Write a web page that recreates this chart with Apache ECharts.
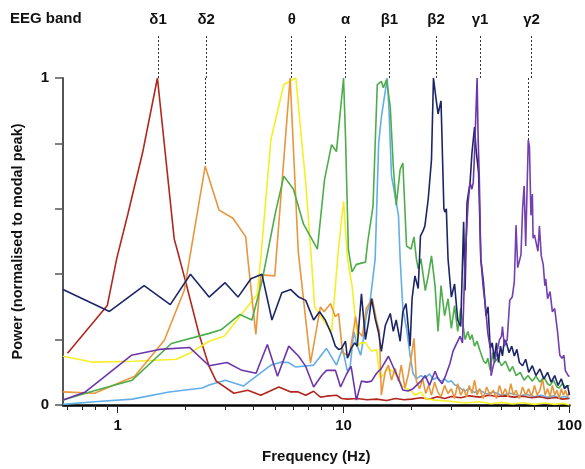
<!DOCTYPE html>
<html><head><meta charset="utf-8">
<script src="https://cdn.jsdelivr.net/npm/echarts@6/dist/echarts.min.js"></script>
<style>html,body{margin:0;padding:0;background:#fff}#c{width:585px;height:469px}</style>
</head><body><div id="c"></div><script>
// ---- band annotations ----
const bandNames = ['δ1','δ2','θ','α','β1','β2','γ1','γ2'];
const bandPeakHz = [1.5, 2.44, 5.8, 10.0, 15.6, 25.0, 39.0, 65.7];
const bandPeakPower = [1, 0.73, 1, 1, 1, 1, 1, 0.81];

// ---- axis ticks ----
const xMinorTicks = [0.6,0.7,0.8,0.9,1,2,3,4,5,6,7,8,9,10,20,30,40,50,60,70,80,90,100];
const xMajorTicks = [1,10,100];
const yLabelValues = [0,1];

// ---- spectra: [frequency Hz, normalised power] ----
const delta1 = [[0.6,0.158],[0.9,0.304],[0.99,0.447],[1.11,0.584],[1.29,0.772],[1.5,1.0],[1.78,0.508],[1.88,0.447],[2.0,0.377],[2.3,0.213],[2.54,0.118],[2.73,0.073],[3.27,0.036],[3.77,0.045],[4.3,0.03],[5.17,0.055],[5.84,0.04],[6.3,0.04],[6.8,0.03],[7.37,0.042],[7.9,0.024],[8.4,0.027],[9.3,0.03],[9.8,0.02],[10.4,0.018],[11.5,0.02],[12.7,0.016],[14,0.018],[15.5,0.014],[17,0.02],[18.5,0.016],[20,0.018],[22,0.022],[24,0.018],[26,0.025],[28,0.02],[30,0.026],[33,0.022],[36,0.028],[40,0.024],[44,0.03],[48,0.026],[52,0.028],[57,0.024],[62,0.027],[68,0.022],[74,0.025],[80,0.02],[87,0.023],[93,0.018],[100,0.02]];

const delta2 = [[0.573,0.04],[0.79,0.036],[1.19,0.088],[1.61,0.198],[1.97,0.35],[2.44,0.73],[2.81,0.596],[3.24,0.571],[3.69,0.514],[3.77,0.447],[4.09,0.216],[4.3,0.398],[4.96,0.395],[5.8,1.0],[6.3,0.47],[7.14,0.128],[7.9,0.30],[8.2,0.285],[8.75,0.31],[9.2,0.27],[9.5,0.28],[9.9,0.16],[10.6,0.15],[11.1,0.234],[11.3,0.27],[11.6,0.225],[12.1,0.21],[12.6,0.295],[13.4,0.325],[14.0,0.258],[14.4,0.225],[14.7,0.03],[15.3,0.103],[15.8,0.122],[16.3,0.076],[16.9,0.112],[17.5,0.073],[18.0,0.122],[18.7,0.052],[19.3,0.09],[19.9,0.143],[20.5,0.204],[21.0,0.073],[21.7,0.05],[22.4,0.08],[23.1,0.035],[23.8,0.06],[24.5,0.03],[25.3,0.07],[26.1,0.04],[27,0.025],[28,0.06],[29,0.035],[30,0.05],[31,0.02],[32,0.065],[33,0.03],[34,0.05],[35,0.025],[36,0.06],[37,0.035],[38,0.076],[39,0.03],[40,0.05],[41.5,0.02],[43,0.055],[44.5,0.03],[46,0.045],[47.5,0.02],[49,0.06],[50.5,0.03],[52,0.05],[53.5,0.025],[55,0.065],[56.5,0.03],[58,0.045],[60,0.02],[62,0.055],[64,0.03],[66,0.05],[68,0.025],[70,0.06],[72,0.03],[74,0.045],[76,0.08],[78,0.03],[80,0.05],[82,0.025],[84,0.06],[86,0.03],[88,0.045],[90,0.02],[92,0.05],[94,0.03],[96,0.045],[98,0.025],[100,0.04]];

const theta = [[0.573,0.149],[0.78,0.131],[1.19,0.134],[1.82,0.14],[2.08,0.158],[2.54,0.195],[2.96,0.21],[4.14,0.337],[4.3,0.447],[4.77,0.812],[5.44,0.98],[6.15,1.0],[6.5,0.82],[6.8,0.68],[7.2,0.447],[7.45,0.30],[8.15,0.258],[8.85,0.225],[9.5,0.48],[10.0,0.623],[10.4,0.45],[10.9,0.365],[11.3,0.258],[11.6,0.18],[11.9,0.19],[12.5,0.19],[13.3,0.164],[14.0,0.17],[14.5,0.082],[15.2,0.097],[15.8,0.112],[16.5,0.103],[17.5,0.082],[18.1,0.06],[18.7,0.052],[19.7,0.046],[20.8,0.03],[22,0.04],[23,0.02],[25.4,0.015],[29,0.012],[34.5,0.006],[40,0.01],[45,0.004],[50,0.008],[56,0.003],[62,0.007],[70,0.002],[78,0.006],[86,0.002],[94,0.005],[100,0.0]];

const alpha = [[0.573,0.015],[0.78,0.043],[1.16,0.076],[1.73,0.188],[2.54,0.219],[2.87,0.23],[3.48,0.277],[3.93,0.26],[4.35,0.377],[5.0,0.59],[5.44,0.70],[6.0,0.66],[6.65,0.553],[7.66,0.477],[8.24,0.69],[8.85,0.796],[9.3,0.775],[10.0,1.0],[10.2,0.82],[10.5,0.477],[10.9,0.407],[11.4,0.43],[12.5,0.437],[12.8,0.5],[13.5,0.608],[14.1,0.98],[14.7,0.99],[15.0,0.97],[15.5,0.995],[16.1,0.91],[16.6,0.73],[17.1,0.61],[17.8,0.72],[18.3,0.74],[19.0,0.486],[19.9,0.477],[20.5,0.514],[21.0,0.447],[21.4,0.416],[22.0,0.447],[23.0,0.35],[23.7,0.395],[24.5,0.456],[25.4,0.365],[26.2,0.225],[26.6,0.295],[27.0,0.365],[28.0,0.273],[29.0,0.325],[30.0,0.234],[31.0,0.304],[32.0,0.225],[33.0,0.295],[34.5,0.2],[35.5,0.225],[36.3,0.2],[37.0,0.215],[38.0,0.18],[39.0,0.195],[40.0,0.17],[41.7,0.134],[42.7,0.127],[43.5,0.143],[44.6,0.106],[45.7,0.16],[46.5,0.13],[48.2,0.143],[50,0.12],[52,0.134],[54.4,0.103],[56,0.118],[58,0.09],[60.5,0.1],[63,0.076],[65.5,0.09],[68.5,0.073],[71,0.088],[74,0.07],[77,0.085],[80,0.065],[82,0.06],[85,0.075],[88,0.055],[90,0.052],[93,0.066],[96,0.055],[100,0.06]];

const beta1 = [[0.573,0.002],[0.79,0.01],[1.16,0.018],[1.69,0.04],[2.37,0.052],[2.54,0.061],[3.0,0.076],[3.6,0.058],[4.14,0.09],[4.77,0.122],[5.28,0.131],[5.7,0.13],[6.15,0.116],[7.37,0.122],[8.4,0.173],[9.3,0.122],[9.9,0.173],[10.4,0.103],[10.7,0.118],[11.1,0.225],[11.5,0.18],[11.9,0.152],[12.2,0.195],[12.6,0.273],[13.1,0.316],[13.8,0.447],[14.3,0.8],[14.7,0.88],[15.3,0.96],[15.6,1.0],[15.9,0.9],[16.3,0.7],[16.9,0.64],[17.5,0.58],[17.8,0.447],[18.3,0.295],[19.0,0.234],[19.7,0.152],[20.3,0.097],[21,0.08],[22,0.09],[23,0.082],[24,0.095],[25,0.078],[26,0.085],[27,0.072],[28,0.08],[29,0.07],[30,0.074],[31,0.062],[32,0.058],[33,0.05],[34.5,0.043],[36,0.05],[38,0.038],[40,0.045],[43,0.034],[46,0.04],[50,0.03],[55,0.036],[60,0.028],[65,0.032],[70,0.025],[75,0.03],[80,0.024],[85,0.028],[90,0.022],[95,0.026],[100,0.02]];

const beta2 = [[0.573,0.353],[0.92,0.286],[1.31,0.365],[1.71,0.307],[2.1,0.40],[2.54,0.33],[2.99,0.374],[3.41,0.33],[3.89,0.386],[4.35,0.40],[4.82,0.26],[5.33,0.343],[5.84,0.353],[6.33,0.33],[6.8,0.32],[7.37,0.26],[7.83,0.285],[8.3,0.26],[8.8,0.22],[9.2,0.18],[9.5,0.17],[9.8,0.173],[10.2,0.195],[10.4,0.143],[10.8,0.173],[11.2,0.19],[11.5,0.18],[12.0,0.34],[12.5,0.2],[12.9,0.255],[13.3,0.325],[13.8,0.264],[14.3,0.22],[14.7,0.164],[15.3,0.243],[16.1,0.28],[16.6,0.225],[17.1,0.26],[17.8,0.195],[18.3,0.285],[18.9,0.31],[19.7,0.18],[20.1,0.325],[20.7,0.395],[21.4,0.356],[21.9,0.517],[22.4,0.53],[22.9,0.547],[23.7,0.63],[24.5,0.75],[25.0,1.0],[25.7,0.933],[26.2,0.89],[27.0,0.93],[27.8,0.60],[28.1,0.59],[28.5,0.60],[29.0,0.447],[30,0.33],[31,0.37],[32,0.26],[33,0.24],[34.0,0.56],[34.5,0.35],[35.2,0.62],[36.3,0.68],[37.0,0.77],[38.0,0.85],[38.6,0.78],[39.6,0.71],[40.5,0.447],[41.6,0.377],[42.7,0.273],[43.6,0.3],[44.6,0.173],[45.5,0.19],[46.5,0.14],[47.5,0.19],[48.5,0.13],[49.5,0.18],[50.5,0.15],[51.5,0.2],[52.6,0.19],[54,0.16],[55.5,0.18],[57,0.15],[58.5,0.17],[60,0.13],[62,0.12],[64,0.14],[66,0.1],[68.5,0.12],[71,0.09],[74,0.11],[77,0.08],[80,0.1],[83,0.07],[86,0.09],[89,0.06],[92,0.08],[95,0.05],[98,0.06],[100,0.03]];

const gamma1 = [[0.573,0.015],[0.72,0.04],[1.15,0.152],[1.53,0.17],[2.08,0.176],[2.54,0.12],[3.05,0.13],[3.55,0.106],[4.1,0.097],[4.6,0.185],[5.1,0.088],[5.72,0.18],[6.33,0.149],[6.8,0.118],[7.37,0.055],[8.0,0.09],[8.4,0.106],[9.2,0.106],[9.7,0.055],[10.3,0.094],[10.8,0.118],[11.4,0.015],[12.0,0.073],[12.7,0.07],[13.3,0.073],[14.0,0.097],[14.7,0.112],[15.8,0.149],[16.5,0.12],[17.5,0.08],[18.3,0.046],[19.3,0.043],[20.3,0.05],[22,0.073],[23,0.09],[24,0.06],[25.4,0.103],[26.2,0.08],[27.3,0.065],[28.3,0.09],[29.6,0.128],[30.5,0.164],[31.4,0.183],[32.8,0.21],[33.6,0.19],[34.5,0.447],[35.6,0.62],[36.3,0.68],[37,0.66],[37.5,0.68],[38.0,0.77],[39.0,1.0],[39.4,0.82],[39.9,0.69],[40.5,0.447],[41.5,0.36],[42.5,0.3],[43.5,0.22],[44.6,0.173],[45.0,0.09]];

const gamma2 = [[45.0,0.09],[46,0.12],[47,0.143],[48,0.17],[49,0.2],[50,0.21],[50.5,0.24],[51.5,0.18],[53,0.2],[54.4,0.32],[55.8,0.33],[57,0.377],[58,0.55],[59,0.42],[61,0.46],[62,0.6],[63,0.67],[64,0.486],[65.7,0.81],[66.5,0.79],[67.5,0.58],[68.5,0.645],[69,0.51],[70,0.52],[71,0.52],[72.5,0.47],[73.6,0.547],[75,0.456],[76.5,0.43],[77.8,0.365],[78.5,0.386],[80,0.325],[82,0.347],[84,0.285],[86,0.295],[88.5,0.225],[90.6,0.152],[92.7,0.143],[94.5,0.152],[95.8,0.106],[97.5,0.1],[99,0.088],[100,0.09]];

// ---- build chart ----
const FONT = 'Liberation Sans, Arial, sans-serif';
const X_MIN = 0.573, X_MAX = 100;
const specs = [
  {name:'β1', data:beta1, color:'#62aee8'},
  {name:'δ1', data:delta1, color:'#b3261e'},
  {name:'θ', data:theta, color:'#f4ef26'},
  {name:'δ2', data:delta2, color:'#e9963c'},
  {name:'α', data:alpha, color:'#4ead4b'},
  {name:'β2', data:beta2, color:'#1c2667'},
  {name:'γ1', data:gamma1, color:'#6c36aa'},
  {name:'γ2', data:gamma2, color:'#7240b0'}
];
const lineSeries = specs.map((s, i) => ({
  type:'line', name:s.name, data:s.data, xAxisIndex:0, yAxisIndex:0,
  symbol:'none', smooth:false, z:2 + i,
  lineStyle:{color:s.color, width:1.6}, itemStyle:{color:s.color}
}));
const dashStyle = {color:'#333', width:1, type:[2,2]};
const bandSeriesTop = {
  type:'line', xAxisIndex:2, yAxisIndex:1, symbol:'none', silent:true,
  data: bandPeakHz.map(f => [f, 0]), lineStyle:{opacity:0},
  markLine:{
    silent:true, symbol:['none','none'], lineStyle:dashStyle,
    label:{show:true, position:'end', formatter:'{b}', fontFamily:FONT, fontSize:15, fontWeight:'bold', color:'#111', distance:8},
    data: bandPeakHz.map((f, i) => ({xAxis:f, name:bandNames[i]}))
  }
};
const bandSeriesMain = {
  type:'line', xAxisIndex:0, yAxisIndex:0, symbol:'none', silent:true,
  data: bandPeakHz.map((f, i) => [f, bandPeakPower[i]]), lineStyle:{opacity:0},
  markLine:{
    silent:true, symbol:['none','none'], lineStyle:dashStyle, label:{show:false},
    data: bandPeakHz.map((f, i) => bandPeakPower[i] < 1 ? [{coord:[f, 1]}, {coord:[f, bandPeakPower[i]]}] : null).filter(Boolean)
  }
};

const option = {
  animation:false,
  backgroundColor:'#fff',
  title:{text:'EEG band', left:10, top:11, padding:0, textStyle:{fontFamily:FONT, fontSize:15, fontWeight:'bold', color:'#111'}},
  grid:[
    {left:63, right:12, top:78, bottom:62},
    {left:63, right:12, top:35, height:43}
  ],
  xAxis:[
    {type:'log', logBase:10, gridIndex:0, min:X_MIN, max:X_MAX,
     axisLine:{show:true, onZero:false, lineStyle:{color:'#000', width:2.5}},
     axisTick:{show:true, inside:false, length:5, customValues:xMinorTicks, lineStyle:{color:'#222', width:1}},
     axisLabel:{show:true, customValues:xMajorTicks, formatter:v => String(Math.round(v)), fontFamily:FONT, fontSize:15, fontWeight:'bold', color:'#111', margin:13},
     splitLine:{show:false}, minorTick:{show:false},
     name:'Frequency (Hz)', nameLocation:'middle', nameGap:44,
     nameTextStyle:{fontFamily:FONT, fontSize:15, fontWeight:'bold', color:'#111'}},
    {type:'log', logBase:10, gridIndex:0, min:X_MIN, max:X_MAX, position:'bottom',
     axisLine:{show:false}, axisLabel:{show:false}, splitLine:{show:false},
     axisTick:{show:true, length:8, customValues:xMajorTicks, lineStyle:{color:'#222', width:1}}},
    {type:'log', logBase:10, gridIndex:1, min:X_MIN, max:X_MAX,
     axisLine:{show:false}, axisTick:{show:false}, axisLabel:{show:false}, splitLine:{show:false}}
  ],
  yAxis:[
    {type:'value', gridIndex:0, min:0, max:1, interval:0.2,
     axisLine:{show:true, lineStyle:{color:'#555', width:2}},
     axisTick:{show:true, length:8, lineStyle:{color:'#555', width:1.5}},
     axisLabel:{customValues:yLabelValues, fontFamily:FONT, fontSize:15, fontWeight:'bold', color:'#111', margin:14},
     splitLine:{show:false},
     name:'Power (normalised to modal peak)', nameLocation:'middle', nameGap:38,
     nameTextStyle:{fontFamily:FONT, fontSize:14.5, fontWeight:'bold', color:'#111'}},
    {type:'value', gridIndex:1, min:0, max:1, show:false}
  ],
  series:[...lineSeries, bandSeriesTop, bandSeriesMain]
};
const chart = echarts.init(document.getElementById('c'), null, {renderer:'canvas'});
chart.setOption(option);
</script></body></html>
